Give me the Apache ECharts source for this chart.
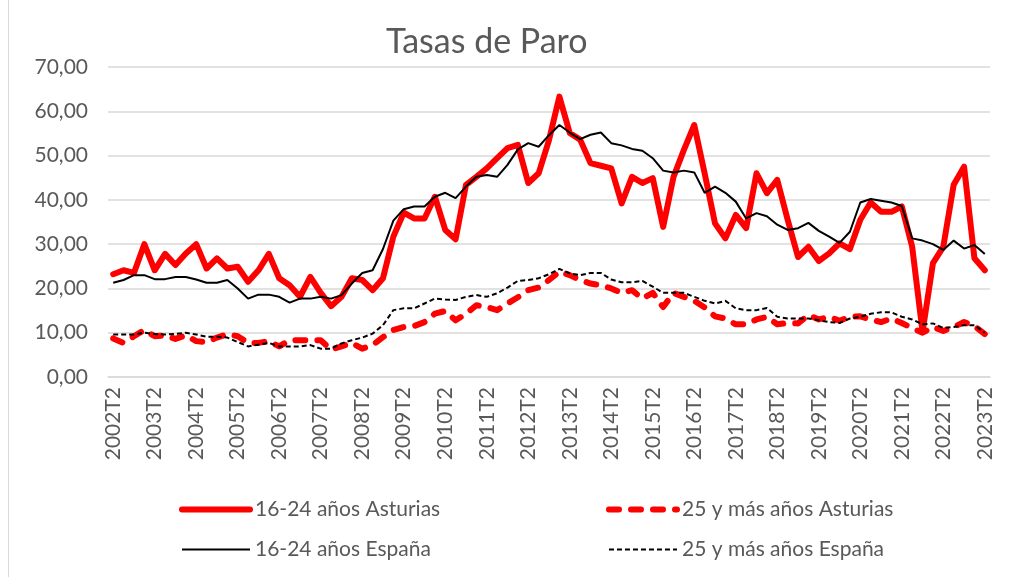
<!DOCTYPE html>
<html>
<head>
<meta charset="utf-8">
<script src="https://cdn.jsdelivr.net/npm/echarts@6/dist/echarts.min.js"></script>
<style>
  html, body { margin: 0; padding: 0; background: #fff; }
  #chart { width: 1009px; height: 577px; }
</style>
</head>
<body>
<div id="chart"></div>
<script>
// quarters 2002T2 .. 2023T2
const years = [2002, 2003, 2004, 2005, 2006, 2007, 2008, 2009, 2010, 2011, 2012,
  2013, 2014, 2015, 2016, 2017, 2018, 2019, 2020, 2021, 2022, 2023];
const quarters = ['T1', 'T2', 'T3', 'T4'];

const asturias1624 = [23.2, 24.1, 23.5, 30.0, 24.1, 27.8, 25.3, 27.9, 30.0, 24.5, 26.8, 24.5, 24.9, 21.5, 24.1, 27.8,
  22.3, 20.7, 18.1, 22.6, 19.0, 16.0, 18.1, 22.3, 21.9, 19.6, 22.3, 31.7, 37.1, 35.8, 35.8, 40.7,
  33.2, 31.1, 43.4, 45.2, 47.1, 49.4, 51.7, 52.4, 43.8, 46.0, 53.5, 63.3, 55.1, 53.6, 48.3, 47.7,
  47.1, 39.2, 45.2, 43.8, 44.9, 33.9, 45.2, 51.3, 56.9, 46.0, 34.7, 31.3, 36.6, 33.6, 46.0, 41.5,
  44.5, 35.5, 27.1, 29.4, 26.2, 27.9, 30.2, 28.9, 35.5, 39.4, 37.3, 37.3, 38.5, 29.4, 10.2, 25.7,
  29.4, 43.4, 47.5, 26.8, 24.1];

const asturias25 = [8.7, 7.7, 9.2, 10.6, 9.2, 9.4, 8.6, 9.4, 8.1, 7.9, 8.9, 9.7, 9.2, 7.7, 7.7, 8.1,
  6.9, 8.3, 8.3, 8.3, 8.3, 6.2, 6.9, 7.7, 6.4, 7.2, 9.0, 10.6, 11.3, 11.5, 12.4, 14.3,
  14.9, 12.8, 14.3, 16.2, 15.8, 15.1, 16.6, 18.0, 19.6, 20.2, 21.9, 23.8, 23.0, 21.9, 21.1, 20.7,
  20.0, 19.0, 19.6, 17.7, 19.0, 15.8, 19.0, 18.1, 17.2, 15.7, 13.7, 13.2, 11.9, 11.9, 13.0, 13.6,
  11.9, 12.2, 12.1, 14.0, 13.0, 13.6, 12.7, 13.6, 13.7, 13.0, 12.4, 13.2, 12.2, 11.0, 10.0, 11.3,
  10.4, 11.3, 12.4, 11.5, 9.7];

const espana1624 = [21.3, 21.9, 23.0, 23.0, 22.1, 22.1, 22.6, 22.6, 22.0, 21.3, 21.3, 21.9, 20.0, 17.7, 18.6, 18.6,
  18.1, 16.8, 17.7, 17.7, 18.1, 17.7, 18.5, 21.1, 23.5, 24.1, 28.9, 35.3, 37.9, 38.5, 38.5, 40.7,
  41.6, 40.4, 43.0, 45.2, 45.6, 45.2, 47.9, 51.4, 52.8, 52.0, 54.6, 56.9, 55.2, 53.7, 54.7, 55.2,
  52.8, 52.3, 51.5, 51.1, 49.4, 46.6, 46.2, 46.6, 46.2, 41.6, 43.0, 41.6, 39.6, 35.8, 37.0, 36.3,
  34.4, 33.2, 33.6, 34.8, 33.0, 31.7, 30.3, 32.8, 39.4, 40.2, 39.8, 39.4, 38.6, 31.3, 30.8, 30.0,
  28.7, 30.8, 29.0, 29.8, 27.8];

const espana25 = [9.6, 9.6, 9.6, 10.0, 9.7, 9.6, 9.7, 10.0, 9.6, 9.1, 9.1, 8.9, 7.9, 6.9, 7.3, 7.7,
  6.9, 6.9, 6.9, 7.2, 6.4, 6.4, 7.6, 8.3, 8.9, 9.8, 11.7, 15.1, 15.5, 15.5, 16.6, 17.7,
  17.5, 17.4, 18.1, 18.5, 18.1, 18.9, 20.2, 21.7, 21.9, 22.3, 23.2, 24.4, 23.4, 23.0, 23.5, 23.5,
  22.0, 21.4, 21.4, 21.7, 20.4, 19.0, 19.0, 19.0, 18.1, 17.2, 16.6, 17.2, 15.5, 15.1, 15.1, 15.6,
  13.6, 13.2, 13.2, 13.2, 12.8, 12.4, 12.2, 13.2, 13.6, 14.3, 14.6, 14.6, 13.6, 13.0, 11.9, 12.1,
  11.1, 11.3, 11.7, 11.7, 10.0];

const seriesNames = ['16-24 años Asturias', '25 y más años Asturias', '16-24 años España', '25 y más años España'];

let categories = [];
years.forEach(y => quarters.forEach(q => categories.push(y + q)));
categories = categories.slice(1, 1 + asturias1624.length);

const font = 'Lato';
const grey = '#595959';

const redSolid = { color: '#ff0000', width: 6, cap: 'round', join: 'round' };
const redDash = { color: '#ff0000', width: 6, type: [10, 12], cap: 'round', join: 'round' };
const blackSolid = { color: '#000000', width: 2 };
const blackDash = { color: '#000000', width: 2, type: [5, 3] };

// legend shows only the line, no marker
const legendBase = {
  orient: 'vertical',
  top: 494,
  itemWidth: 68,
  itemHeight: 14,
  itemGap: 19,
  itemStyle: { color: 'rgba(0,0,0,0)', borderWidth: 0, opacity: 0 },
  textStyle: { fontFamily: font, fontSize: 21, color: grey }
};

const option = {
  animation: false,
  title: {
    text: 'Tasas de Paro',
    left: 381,
    top: 20,
    textStyle: { fontFamily: font, fontSize: 34, fontWeight: 'normal', color: grey }
  },
  legend: [
    Object.assign({}, legendBase, {
      left: 174,
      data: [
        { name: seriesNames[0], lineStyle: redSolid },
        { name: seriesNames[2], lineStyle: blackSolid }
      ]
    }),
    Object.assign({}, legendBase, {
      left: 601,
      data: [
        { name: seriesNames[1], lineStyle: redDash },
        { name: seriesNames[3], lineStyle: blackDash }
      ]
    })
  ],
  grid: { left: 108, right: 19, top: 67, bottom: 200 },
  xAxis: {
    type: 'category',
    data: categories,
    boundaryGap: true,
    axisLine: { lineStyle: { color: '#d9d9d9', width: 1.5 } },
    axisTick: { show: false },
    axisLabel: {
      interval: 3,
      rotate: 90,
      margin: 10,
      fontFamily: font,
      fontSize: 21,
      color: grey
    }
  },
  yAxis: {
    type: 'value',
    min: 0,
    max: 70,
    interval: 10,
    axisLine: { show: false },
    axisTick: { show: false },
    splitLine: { lineStyle: { color: '#d9d9d9', width: 1.5 } },
    axisLabel: {
      margin: 20,
      fontFamily: font,
      fontSize: 21,
      color: grey,
      formatter: v => v.toFixed(2).replace('.', ',')
    }
  },
  series: [
    {
      name: seriesNames[0], type: 'line', data: asturias1624, symbol: 'none',
      itemStyle: { color: '#ff0000' }, lineStyle: redSolid
    },
    {
      name: seriesNames[1], type: 'line', data: asturias25, symbol: 'none',
      itemStyle: { color: '#ff0000' }, lineStyle: redDash
    },
    {
      name: seriesNames[2], type: 'line', data: espana1624, symbol: 'none',
      itemStyle: { color: '#000000' }, lineStyle: blackSolid
    },
    {
      name: seriesNames[3], type: 'line', data: espana25, symbol: 'none',
      itemStyle: { color: '#000000' }, lineStyle: blackDash
    }
  ],
  graphic: [
    {
      type: 'line',
      shape: { x1: 8.5, y1: 0, x2: 8.5, y2: 577 },
      style: { stroke: '#d9d9d9', lineWidth: 1 }
    }
  ]
};

const chart = echarts.init(document.getElementById('chart'), null, { renderer: 'canvas' });
chart.setOption(option);
</script>
</body>
</html>
